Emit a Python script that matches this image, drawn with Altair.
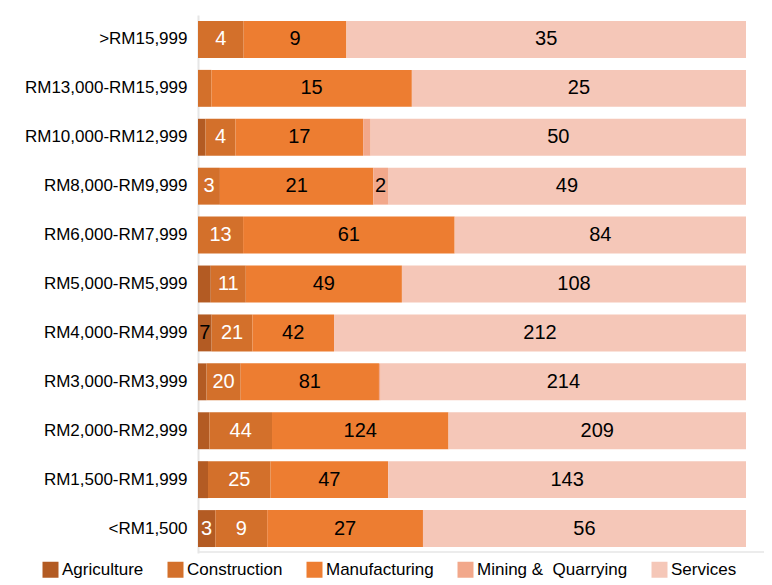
import altair as alt
import pandas as pd

categories = [">RM15,999", "RM13,000-RM15,999", "RM10,000-RM12,999", "RM8,000-RM9,999",
              "RM6,000-RM7,999", "RM5,000-RM5,999", "RM4,000-RM4,999", "RM3,000-RM3,999",
              "RM2,000-RM2,999", "RM1,500-RM1,999", "<RM1,500"]
sectors = ["Agriculture", "Construction", "Manufacturing", "Mining &\u00a0 Quarrying", "Services"]

agriculture = [0, 0, 1, 0, 0, 4, 7, 5, 8, 4, 3]
construction = [4, 1, 4, 3, 13, 11, 21, 20, 44, 25, 9]
manufacturing = [9, 15, 17, 21, 61, 49, 42, 81, 124, 47, 27]
mining = [0, 0, 1, 2, 0, 0, 0, 1, 0, 0, 0]
services = [35, 25, 50, 49, 84, 108, 212, 214, 209, 143, 56]

# which agriculture values carry a visible label in the original
agri_label_shown = [False, False, False, False, False, False, True, False, False, False, True]
# agriculture labels drawn in dark text
agri_label_dark = [False, False, False, False, False, False, True, False, False, False, False]

colors = ["#B35B23", "#D3702B", "#ED7D31", "#F2A88B", "#F5C7B8"]
series = [agriculture, construction, manufacturing, mining, services]

rows = []
for i, c in enumerate(categories):
    for j, s in enumerate(sectors):
        v = series[j][i]
        if j == 0:
            show = agri_label_shown[i]
            white = not agri_label_dark[i]
        else:
            show = v >= 2
            white = (j == 1)
        rows.append(dict(category=c, sector=s, order=j, value=v, show=show,
                         lc="w" if white else "b"))
df = pd.DataFrame(rows)

yscale = alt.Scale(paddingInner=0.245, paddingOuter=0.122)
yaxis = alt.Axis(title=None, ticks=False, labelFontSize=17, labelColor="#000000",
                 labelFont="Liberation Sans", labelPadding=11, domainColor="#E6E6E6",
                 domainWidth=2)

base = alt.Chart(df).transform_stack(
    stack="value", groupby=["category"], as_=["x0", "x1"], offset="normalize",
    sort=[alt.SortField("order", order="ascending")]
).transform_calculate(mid="(datum.x0 + datum.x1) / 2")

bars = base.mark_bar().encode(
    y=alt.Y("category:N", sort=categories, scale=yscale, axis=yaxis),
    x=alt.X("x0:Q", axis=None, scale=alt.Scale(domain=[0, 1])),
    x2="x1:Q",
    color=alt.Color("sector:N", scale=alt.Scale(domain=sectors, range=colors),
                    legend=alt.Legend(title=None, orient="none", direction="horizontal",
                                      legendX=-156, legendY=546, symbolType="square",
                                      symbolSize=256, symbolStrokeWidth=0,
                                      labelFontSize=17, labelFont="Liberation Sans",
                                      labelColor="#000000", labelOffset=3,
                                      columnPadding=23, padding=0)),
)

texts = base.transform_filter("datum.show").mark_text(
    fontSize=20, font="Liberation Sans", baseline="middle", align="center"
).encode(
    y=alt.Y("category:N", sort=categories, scale=yscale, axis=yaxis),
    x=alt.X("mid:Q", axis=None, scale=alt.Scale(domain=[0, 1])),
    text=alt.Text("value:Q"),
    color=alt.condition("datum.lc == 'w'", alt.value("#FFFFFF"), alt.value("#000000")),
)

bottom_line = alt.Chart(pd.DataFrame({"a": [0]})).mark_rule(color="#E6E6E6", strokeWidth=1.5).encode(
    x=alt.value(0), x2=alt.value(572), y=alt.value(537)
)

chart = alt.layer(bars, texts, bottom_line).properties(
    width=548, height=538,
    autosize=alt.AutoSizeParams(type="none"),
    padding={"left": 190, "top": 7, "right": 18, "bottom": 32},
).configure_view(stroke=None)

chart.save("out.html", embed_options={"renderer": "svg", "actions": False})
